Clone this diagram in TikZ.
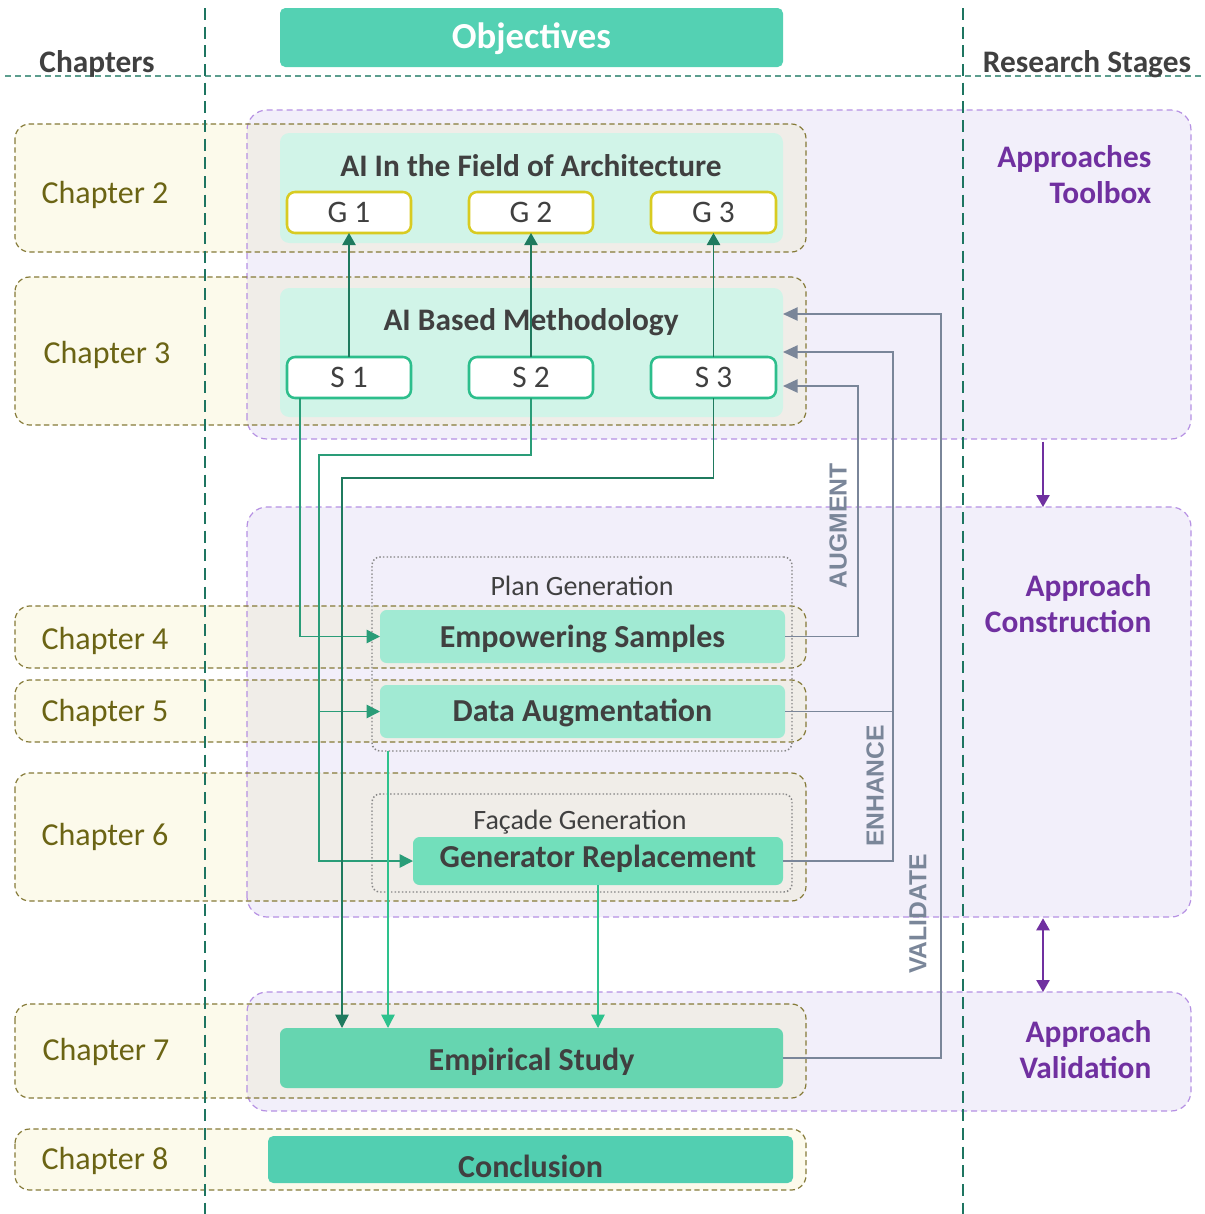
\documentclass[tikz,border=0pt]{standalone}
\usepackage{fontspec}
\setmainfont{Carlito}
\newfontfamily\capsfont{Liberation Sans}
\usetikzlibrary{arrows.meta,calc}

\definecolor{txt}{HTML}{404040}
\definecolor{chaptxt}{HTML}{6B6414}
\definecolor{chapline}{HTML}{857A38}
\definecolor{chapfill}{HTML}{FCFAEB}
\definecolor{overlapfill}{HTML}{F0EDE8}
\definecolor{stagefill}{HTML}{F2EFFA}
\definecolor{stageline}{HTML}{B691E3}
\definecolor{stagetxt}{HTML}{7030A0}
\definecolor{guide}{HTML}{1E7561}
\definecolor{hguide}{HTML}{5C9E8E}
\definecolor{objfill}{HTML}{54D1B3}
\definecolor{mint}{HTML}{D1F4E8}
\definecolor{gline}{HTML}{D8CB21}
\definecolor{sline}{HTML}{2DBE8C}
\definecolor{taskA}{HTML}{A1EAD3}
\definecolor{taskB}{HTML}{72DFBB}
\definecolor{study}{HTML}{66D5B0}
\definecolor{concl}{HTML}{52CFB1}
\definecolor{flowdark}{HTML}{1F7A5E}
\definecolor{flow}{HTML}{2A9D78}
\definecolor{flowlight}{HTML}{2EC28D}
\definecolor{slate}{HTML}{7A8699}
\definecolor{dotline}{HTML}{858585}

\newcommand\fs[1]{\fontsize{#1}{#1}\selectfont}

\tikzset{
  sz/.style 2 args={minimum width=#1*0.75pt, minimum height=#2*0.75pt},
  area/.style={inner sep=0pt, outer sep=0pt},
  stagearea/.style={area, fill=stagefill, rounded corners=15pt},
  stageoutline/.style={draw=stageline, line width=0.9pt, dash pattern=on 4.5pt off 3pt, rounded corners=15pt},
  chapoutline/.style={draw=chapline, line width=0.9pt, dash pattern=on 4pt off 2.5pt, rounded corners=11pt},
  chaplbl/.style={font=\fs{24}, text=chaptxt},
  headlbl/.style={font=\bfseries\fs{23.5}, text=txt},
  stagelbl/.style={font=\bfseries\fontsize{23.5}{27}\selectfont, text=stagetxt, align=right, anchor=east},
  title/.style={font=\bfseries\fs{23.5}, text=txt},
  mintbox/.style={area, fill=mint, rounded corners=7pt},
  gbox/.style={area, fill=white, draw=gline, line width=1.9pt, rounded corners=6pt, font=\fs{23.5}, text=txt},
  sbox/.style={area, fill=white, draw=sline, line width=1.9pt, rounded corners=6pt, font=\fs{23.5}, text=txt},
  task/.style={area, rounded corners=5pt, font=\bfseries\fs{24}, text=txt, text height=17pt, text depth=5pt},
  group/.style={area, draw=dotline, line width=1.1pt, dash pattern=on 1.1pt off 1.6pt, rounded corners=6pt},
  grouplbl/.style={font=\fs{21}, text=txt},
  flowarr/.style={line width=1.1pt, -{Triangle[length=10pt,width=10pt]}},
  uparr/.style={flowdark, line width=1.1pt, -{Triangle[length=9pt,width=10pt]}},
  backarr/.style={slate, line width=1.1pt, -{Triangle[length=11pt,width=10pt]}},
  backline/.style={slate, line width=1.1pt},
  caps/.style={font=\capsfont\bfseries\fs{18.5}, text=slate, rotate=90},
  stagearr/.style={stagetxt, line width=1.1pt},
}

\begin{document}
\begin{tikzpicture}[x=0.75pt,y=-0.75pt]
\useasboundingbox (0,0) rectangle (1205,1214);

% ---------- research stage regions (fill) ----------
\node[stagearea, sz={944}{329}] (st1) at (719,274.5) {};
\node[stagearea, sz={944}{410}] (st2) at (719,712) {};
\node[stagearea, sz={944}{119}] (st3) at (719,1051.5) {};

% ---------- chapter bands (fill) ----------
\foreach \ya/\yb in {124/252, 277/425, 606/668, 680/742, 773/901, 1004/1098, 1129/1190}
  \fill[chapfill, rounded corners=11pt] (15,\ya) rectangle (806,\yb);
\begin{scope}
  \clip[rounded corners=15pt] (st1.south west) rectangle (st1.north east)
        (st2.south west) rectangle (st2.north east)
        (st3.south west) rectangle (st3.north east);
  \foreach \ya/\yb in {124/252, 277/425, 606/668, 680/742, 773/901, 1004/1098}
    \fill[overlapfill, rounded corners=11pt] (15,\ya) rectangle (806,\yb);
\end{scope}

% ---------- outlines ----------
\foreach \s in {st1,st2,st3}
  \draw[stageoutline] (\s.south west) rectangle (\s.north east);
\foreach \ya/\yb in {124/252, 277/425, 606/668, 680/742, 773/901, 1004/1098, 1129/1190}
  \draw[chapoutline] (15,\ya) rectangle (806,\yb);

% ---------- guide lines ----------
\draw[hguide, line width=1.1pt, dash pattern=on 4.5pt off 3pt] (5,76) -- (1205,76);
\draw[guide, line width=2.2pt, dash pattern=on 9pt off 5pt] (205,8) -- (205,1214);
\draw[guide, line width=2.2pt, dash pattern=on 9pt off 5pt] (963,8) -- (963,1214);

% ---------- headers ----------
\node[headlbl] (hchap) at (97,64) {Chapters};
\node[headlbl] (hstage) at (1087,64) {Research Stages};
\node[area, fill=objfill, rounded corners=4pt, sz={503}{59}, font=\bfseries\fs{27.5}, text=white,
      text height=19pt, text depth=6pt] (obj) at (531.5,37.5) {\raisebox{-2pt}{Objectives}};

% ---------- chapter labels ----------
\node[chaplbl] (ch2) at (105,195) {Chapter 2};
\node[chaplbl] (ch3) at (107,355) {Chapter 3};
\node[chaplbl] (ch4) at (105,641) {Chapter 4};
\node[chaplbl] (ch5) at (105,713) {Chapter 5};
\node[chaplbl] (ch6) at (105,837) {Chapter 6};
\node[chaplbl] (ch7) at (106,1052) {Chapter 7};
\node[chaplbl] (ch8) at (105,1161) {Chapter 8};

% ---------- stage labels ----------
\node[stagelbl] (lbl1) at (1156,175) {Approaches\\Toolbox};
\node[stagelbl] (lbl2) at (1156,603.5) {Approach\\Construction};
\node[stagelbl] (lbl3) at (1156,1049.5) {Approach\\Validation};

% ---------- chapter 2: goals ----------
\node[mintbox, sz={503}{110}] (field) at (531.5,188) {};
\node[title] (fieldt) at (531,166) {AI In the Field of Architecture};
\node[gbox, sz={124}{41}] (g1) at (349,212.5) {G 1};
\node[gbox, sz={124}{41}] (g2) at (531,212.5) {G 2};
\node[gbox, sz={125}{41}] (g3) at (713.5,212.5) {G 3};

% ---------- chapter 3: methodology ----------
\node[mintbox, sz={503}{129}] (meth) at (531.5,352.5) {};
\node[title] (metht) at (531,322) {AI Based Methodology};
\node[sbox, sz={124}{41}] (s1) at (349,377.5) {S 1};
\node[sbox, sz={124}{41}] (s2) at (531,377.5) {S 2};
\node[sbox, sz={125}{41}] (s3) at (713.5,377.5) {S 3};

\draw[uparr] (s1.north) -- (g1.south);
\draw[uparr] (s2.north) -- (g2.south);
\draw[uparr] (s3.north) -- (g3.south);

% ---------- chapters 4-6: construction ----------
\node[group, sz={420}{194}] (plan) at (582,654) {};
\node[grouplbl] (plant) at (582,586) {Plan Generation};
\node[task, fill=taskA, sz={405}{53}] (es) at (582.5,636.5) {\raisebox{-2.25pt}{Empowering Samples}};
\node[task, fill=taskA, sz={405}{53}] (da) at (582.5,711.5) {\raisebox{-1.5pt}{Data Augmentation}};

\node[group, sz={420}{98}] (facade) at (582,843) {};
\node[grouplbl] (facadet) at (580,822) {Façade Generation};
\node[task, fill=taskB, sz={370}{48}] (gr) at (598,861) {\raisebox{1.5pt}{Generator Replacement}};

% ---------- chapters 7-8 ----------
\node[task, fill=study, sz={503}{60}] (emp) at (531.5,1058) {\raisebox{-3pt}{Empirical Study}};
\node[task, fill=concl, rounded corners=4pt, sz={525}{47}] (concl) at (530.5,1159.5) {\raisebox{-7.5pt}{Conclusion}};

% ---------- forward flows ----------
\coordinate (j2) at (319,455);
\coordinate (j3) at (342,478);
\draw[flow, flowarr] ([xshift=-36.75pt]s1.south) |- (es.west);
\draw[flow, flowarr] (s2.south) |- (j2) |- (da.west);
\draw[flow, flowarr] (j2) |- (gr.west);
\draw[flowdark, flowarr] (s3.south) |- (j3) -- (j3 |- emp.north);
\coordinate (pout) at ([xshift=-145.5pt]plan.south);
\draw[flowlight, flowarr] (pout) -- (pout |- emp.north);
\draw[flowlight, flowarr] (gr.south) -- (gr.south |- emp.north);

% ---------- feedback loops ----------
\coordinate (aug) at (858,386);
\coordinate (enh) at (893,352);
\coordinate (val) at (941,314);
\draw[backarr] (es.east) -| (aug) -- (aug -| meth.east);
\draw[backarr] (da.east) -| (enh) -- (enh -| meth.east);
\draw[backline] (gr.east) -| (da.east -| enh);
\draw[backarr] (emp.east) -| (val) -- (val -| meth.east);
\node[caps] (augt) at (838,526) {AUGMENT};
\node[caps] (enht) at (875,786) {ENHANCE};
\node[caps] (valt) at (918,914) {VALIDATE};

% ---------- stage transitions ----------
\draw[stagearr, -{Triangle[length=9pt,width=10pt]}] ([xshift=243pt,yshift=-2pt]st1.south) -- ([xshift=243pt]st2.north);
\draw[stagearr, {Triangle[length=9pt,width=10pt]}-{Triangle[length=9pt,width=10pt]}] ([xshift=243pt,yshift=-1pt]st2.south) -- ([xshift=243pt]st3.north);
\end{tikzpicture}
\end{document}
